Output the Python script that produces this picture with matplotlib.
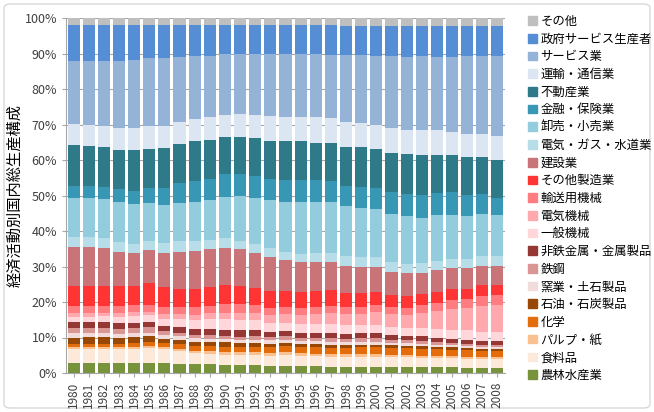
import numpy as np
import matplotlib
matplotlib.use("Agg")
import matplotlib.pyplot as plt
from matplotlib.patches import FancyBboxPatch, Patch

plt.rcParams['font.family'] = ['Noto Sans CJK JP', 'DejaVu Sans']

years = [str(y) for y in range(1980, 2009)]

# shares (%), bottom to top
agri = [2.7,2.7,2.7,2.7,2.7,2.7,2.7,2.6,2.5,2.4,2.3,2.2,2.2,2.0,2.1,1.9,1.9,1.8,1.8,1.8,1.8,1.7,1.7,1.7,1.6,1.6,1.5,1.5,1.5]
food = [4.1,4.1,4.1,4.0,4.0,4.3,4.0,3.6,3.0,2.9,2.8,2.8,2.9,2.9,2.9,2.9,2.8,2.8,2.8,2.8,2.8,2.7,2.7,2.6,2.6,2.5,2.5,2.4,2.4]
pulp = [0.6,0.6,0.6,0.6,0.6,0.7,0.7,0.7,0.8,0.8,0.9,0.8,0.8,0.8,0.8,0.7,0.7,0.7,0.7,0.7,0.7,0.7,0.6,0.6,0.6,0.6,0.5,0.5,0.5]
chem = [0.8,0.9,0.9,1.0,1.1,1.1,1.0,1.2,1.3,1.4,1.4,1.5,1.5,1.6,1.7,1.7,1.8,1.8,1.8,1.9,1.9,1.9,2.0,2.0,1.9,1.9,1.9,1.8,1.8]
oil = [1.8,1.8,1.8,1.7,1.7,1.6,1.2,1.2,1.2,1.2,1.2,1.1,1.1,1.0,1.0,0.9,0.9,0.9,0.8,0.8,0.8,0.8,0.7,0.7,0.7,0.6,0.6,0.6,0.6]
ceramic = [1.2,1.2,1.2,1.1,1.1,1.0,1.2,1.1,1.0,1.0,0.9,0.9,0.9,0.9,0.9,0.9,0.8,0.8,0.8,0.8,0.8,0.7,0.7,0.7,0.6,0.6,0.6,0.5,0.5]
steel = [1.6,1.5,1.5,1.4,1.5,1.5,0.9,0.9,1.0,1.0,0.9,0.9,0.9,0.9,0.9,0.9,0.9,1.0,1.0,1.0,1.0,0.9,0.9,0.8,0.8,0.7,0.7,0.6,0.6]
metal = [1.5,1.5,1.5,1.5,1.5,1.6,1.6,1.7,1.7,1.7,1.7,1.8,1.7,1.5,1.5,1.5,1.5,1.5,1.4,1.4,1.4,1.3,1.2,1.2,1.1,1.1,1.1,1.0,1.0]
gen_mach = [1.6,1.6,1.7,1.8,1.8,1.7,2.0,2.1,2.4,2.7,3.0,3.0,2.8,2.5,2.4,2.4,2.5,2.5,2.3,2.2,2.3,2.2,2.2,2.4,2.5,2.6,2.7,2.7,2.7]
elec_mach = [0.9,1.0,1.0,1.1,1.2,1.1,1.3,1.4,1.5,1.7,1.9,2.0,2.0,2.1,2.3,2.5,2.8,3.1,3.1,3.3,3.8,3.8,3.7,4.3,5.1,5.9,6.1,7.4,7.6]
trans_mach = [2.1,2.0,2.0,2.1,2.0,1.9,1.9,2.0,2.1,2.2,2.3,2.4,2.3,2.2,2.1,2.1,2.0,2.1,2.0,2.0,1.9,1.9,2.0,2.2,2.3,2.5,2.6,2.7,2.8]
other_mfg = [5.6,5.6,5.5,5.5,5.2,6.1,5.6,5.3,5.3,5.3,5.4,5.2,4.9,4.6,4.5,4.5,4.4,4.3,4.0,3.9,3.7,3.5,3.2,3.1,3.1,3.1,3.0,3.1,2.8]
construction = [11.1,11.1,10.7,9.6,9.4,9.3,9.7,10.3,10.7,10.5,10.5,10.2,9.9,9.8,8.6,8.3,8.2,7.9,7.7,7.2,7.1,6.4,6.5,5.9,6.1,5.8,5.7,5.3,5.3]
utility = [2.8,2.8,2.8,2.8,2.6,2.7,2.7,3.0,2.8,2.7,2.7,2.5,2.3,2.5,2.5,2.3,2.7,2.7,2.8,2.9,2.8,2.9,2.6,2.7,2.6,2.5,2.7,2.9,2.9]
wholesale = [10.9,10.8,11.0,11.2,11.1,10.6,10.9,10.8,11.0,11.2,11.7,12.6,13.2,13.3,14.0,14.8,14.4,14.3,14.0,13.9,13.5,13.5,13.4,12.9,12.8,12.4,12.0,11.7,11.4]
finance = [3.4,3.5,3.5,3.7,3.9,4.2,4.8,5.5,5.8,6.0,6.5,6.2,6.2,6.1,6.3,6.2,6.0,5.9,5.7,5.9,5.7,6.1,6.4,6.4,6.3,6.6,6.0,5.7,4.9]
real_estate = [11.4,11.2,11.3,11.1,11.3,11.1,11.3,11.1,11.2,10.8,10.4,10.4,10.5,10.7,10.8,10.8,10.6,10.6,11.1,11.1,11.0,11.1,11.1,11.1,10.8,10.5,10.6,10.4,10.7]
transport = [6.0,6.0,5.8,6.2,6.2,6.4,6.1,6.3,6.2,6.7,6.2,6.4,6.6,7.0,6.9,6.7,7.1,7.0,7.0,6.9,6.9,7.0,6.9,7.1,7.0,6.5,6.5,6.5,6.8]
services = [17.8,18.0,18.3,18.8,19.3,19.0,19.0,18.2,17.8,17.1,17.2,17.1,17.3,17.6,17.7,17.9,17.9,17.9,18.8,19.1,19.4,20.2,20.6,20.9,20.4,21.1,22.0,22.0,22.5]
government = [10.1,10.1,10.1,10.1,9.8,9.4,9.4,9.0,8.7,8.7,8.1,8.0,8.0,8.0,8.1,8.1,8.1,8.4,8.2,8.2,8.5,8.5,8.7,8.5,8.9,8.7,8.5,8.5,8.5]
other = [2.0,2.0,2.0,2.0,2.0,2.0,2.0,2.0,2.0,2.0,2.0,2.0,2.0,2.0,2.0,2.0,2.0,2.0,2.2,2.2,2.2,2.2,2.2,2.2,2.2,2.2,2.2,2.2,2.2]

series = [
    ("農林水産業", agri, "#77933C"),
    ("食料品", food, "#FDE9D9"),
    ("パルプ・紙", pulp, "#FAC090"),
    ("化学", chem, "#E46C0A"),
    ("石油・石炭製品", oil, "#974806"),
    ("窯業・土石製品", ceramic, "#F2DCDB"),
    ("鉄鋼", steel, "#D99694"),
    ("非鉄金属・金属製品", metal, "#953735"),
    ("一般機械", gen_mach, "#FFD7DA"),
    ("電気機械", elec_mach, "#FFA9AE"),
    ("輸送用機械", trans_mach, "#FF7C80"),
    ("その他製造業", other_mfg, "#FF3535"),
    ("建設業", construction, "#C97479"),
    ("電気・ガス・水道業", utility, "#B7DEE8"),
    ("卸売・小売業", wholesale, "#93CDDD"),
    ("金融・保険業", finance, "#3797B5"),
    ("不動産業", real_estate, "#2E7A88"),
    ("運輸・通信業", transport, "#DCE6F2"),
    ("サービス業", services, "#95B3D7"),
    ("政府サービス生産者", government, "#558ED5"),
    ("その他", other, "#BFBFBF"),
]

data = np.array([s[1] for s in series])
data = data / data.sum(axis=0) * 100

fig = plt.figure(figsize=(6.54, 4.12), dpi=100)
fig.patches.append(FancyBboxPatch((4/654, 4/412), 646/654, 404/412,
                                  boxstyle="round,pad=0,rounding_size=0.01",
                                  transform=fig.transFigure, fc="white",
                                  ec="#D9D9D9", lw=1, zorder=-10))
ax = fig.add_axes([66/654, 1-373/412, 439/654, 355/412])

x = np.arange(len(years))
bottom = np.zeros(len(years))
for (name, _, col), vals in zip(series, data):
    ax.bar(x, vals, 0.8, bottom=bottom, color=col, zorder=2)
    bottom += vals

ax.set_xlim(-0.5, len(years)-0.5)
ax.set_ylim(0, 100)
ax.set_yticks(range(0, 101, 10))
ax.set_yticklabels([f"{v}%" for v in range(0, 101, 10)], fontsize=9, color="#404040")
ax.set_xticks(x)
ax.set_xticklabels(years, rotation=90, fontsize=8.5, color="#404040")
ax.grid(axis="y", color="#A6A6A6", lw=0.8, zorder=0)
for s in ["top", "right"]:
    ax.spines[s].set_visible(False)
for s in ["left", "bottom"]:
    ax.spines[s].set_color("#A6A6A6")
ax.tick_params(axis="both", color="#A6A6A6", length=3)
ax.set_ylabel("経済活動別国内総生産構成", fontsize=11, labelpad=1)

handles = [Patch(color=c) for _, _, c in series][::-1]
labels = [n for n, _, _ in series][::-1]
fig.legend(handles, labels, loc="upper left", bbox_to_anchor=(523/654, 1-10/412),
           frameon=False, fontsize=8.9, handlelength=0.7, handleheight=0.7,
           handletextpad=0.3, labelspacing=0.38, borderaxespad=0)

fig.savefig("out.png", dpi=100)
